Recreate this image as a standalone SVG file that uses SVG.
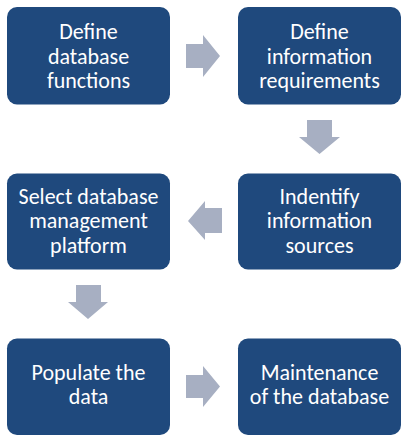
<svg xmlns="http://www.w3.org/2000/svg" width="408" height="442" viewBox="0 0 408 442">
<style>
.box{fill:#1f497d;}
.arr{fill:#a7afc2;}
.t{font-family:Calibri,Carlito,"Liberation Sans",Arial,sans-serif;font-size:22px;fill:#ffffff;text-anchor:middle;}
</style>
<rect width="408" height="442" fill="#ffffff"/>
<g id="connectors">
<polygon class="arr" points="186,44 203,44 203,35 220,56 203,77 203,68 186,68"/>
<polygon class="arr" points="307,120 332,120 332,137 340,137 319.5,154 299,137 307,137"/>
<polygon class="arr" points="222,208 205,208 205,201 188,221 205,240 205,233 222,233"/>
<polygon class="arr" points="76,285 101,285 101,302 108,302 88,319 68,302 76,302"/>
<polygon class="arr" points="186,375 203,375 203,366 220,386.5 203,407 203,398 186,398"/>
</g>
<g id="n1">
<rect class="box" x="7" y="7" width="163" height="97.5" rx="10"/>
<text class="t" x="88.5" y="39">Define</text>
<text class="t" x="88.5" y="63.5">database</text>
<text class="t" x="88.5" y="88">functions</text>
</g>
<g id="n2">
<rect class="box" x="238" y="7" width="163" height="97.5" rx="10"/>
<text class="t" x="319.5" y="39">Define</text>
<text class="t" x="319.5" y="63.5">information</text>
<text class="t" x="319.5" y="88">requirements</text>
</g>
<g id="n3">
<rect class="box" x="238" y="173.5" width="163" height="96" rx="10"/>
<text class="t" x="319.5" y="203.5">Indentify</text>
<text class="t" x="319.5" y="228">information</text>
<text class="t" x="319.5" y="252.5">sources</text>
</g>
<g id="n4">
<rect class="box" x="7" y="173.5" width="163" height="96" rx="10"/>
<text class="t" x="88.5" y="203.5">Select database</text>
<text class="t" x="88.5" y="228">management</text>
<text class="t" x="88.5" y="252.5">platform</text>
</g>
<g id="n5">
<rect class="box" x="7" y="338.5" width="163" height="96.5" rx="10"/>
<text class="t" x="88.5" y="379.5">Populate the</text>
<text class="t" x="88.5" y="404">data</text>
</g>
<g id="n6">
<rect class="box" x="238" y="338.5" width="163" height="96.5" rx="10"/>
<text class="t" x="319.5" y="379.5">Maintenance</text>
<text class="t" x="319.5" y="404">of the database</text>
</g>
</svg>
